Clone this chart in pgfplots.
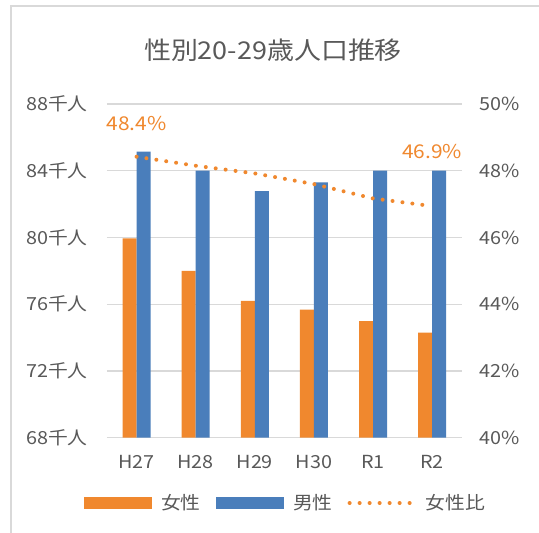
\documentclass[border=0pt]{standalone}
\usepackage{fontspec}
\setmainfont{Noto Sans CJK JP}[FakeStretch=1.1]
\usepackage{pgfplots}
\pgfplotsset{compat=1.18}
\definecolor{orangeC}{HTML}{F0882E}
\definecolor{blueC}{HTML}{4A7EBB}
\definecolor{txtgray}{HTML}{595959}
\definecolor{gridgray}{HTML}{D9D9D9}
\pgfplotsset{
  orangebox legend/.style={legend image code/.code={\fill[orangeC] (0pt,-5.5pt) rectangle (67pt,5.5pt);}},
  bluebox legend/.style={legend image code/.code={\fill[blueC] (0pt,-5.5pt) rectangle (67pt,5.5pt);}},
  dotline legend/.style={legend image code/.code={\draw[orangeC, line width=4pt, line cap=round, dash pattern=on 0pt off 10pt] (2pt,0pt) -- (66pt,0pt);}},
}
\begin{document}
\begin{tikzpicture}
\useasboundingbox (0pt,0pt) rectangle (539pt,533pt);
\fill[white] (0pt,0pt) rectangle (539pt,533pt);
\draw[gridgray, line width=1.5pt] (11pt,0pt) -- (11pt,527pt) -- (539pt,527pt);
\node[text=txtgray, font=\fontsize{24.5}{28}\selectfont] at (273pt,483pt) {性別20-29歳人口推移};
\begin{axis}[
  at={(107pt,95.3pt)}, anchor=south west, scale only axis,
  width=354.7pt, height=333.7pt,
  xmin=-0.5, xmax=5.5, ymin=68, ymax=88,
  xtick={0,1,2,3,4,5}, xticklabels={H27,H28,H29,H30,R1,R2},
  ytick={68,72,76,80,84,88},
  yticklabels={68千人,72千人,76千人,80千人,84千人,88千人},
  axis line style={draw=none},
  tick style={draw=none}, major tick length=0pt,
  ymajorgrids, grid style={gridgray, line width=1.2pt},
  ticklabel style={text=txtgray, font=\fontsize{18}{21}\selectfont},
  yticklabel style={anchor=east, inner sep=0pt, xshift=-19pt},
  xticklabel style={anchor=north, inner sep=0pt, yshift=-17pt},
  /pgf/number format/assume math mode=true,
  clip=false,
]
\addplot[ybar, bar width=14pt, bar shift=-7pt, fill=orangeC, draw=none]
  coordinates {(0,79.94) (1,78.0) (2,76.2) (3,75.68) (4,74.98) (5,74.3)};
\addplot[ybar, bar width=14pt, bar shift=7pt, fill=blueC, draw=none]
  coordinates {(0,85.14) (1,84.0) (2,82.78) (3,83.3) (4,84.0) (5,84.0)};
\end{axis}
\begin{axis}[
  at={(107pt,95.3pt)}, anchor=south west, scale only axis,
  width=354.7pt, height=333.7pt,
  xmin=-0.5, xmax=5.5, ymin=40, ymax=50,
  hide x axis,
  axis line style={draw=none},
  yticklabel pos=right,
  ytick={40,42,44,46,48,50},
  yticklabels={40\%,42\%,44\%,46\%,48\%,50\%},
  tick style={draw=none}, major tick length=0pt,
  ticklabel style={text=txtgray, font=\fontsize{18}{21}\selectfont},
  yticklabel style={anchor=west, inner sep=0pt, xshift=18pt},
  /pgf/number format/assume math mode=true,
  clip=false,
  legend columns=3,
  legend style={at={(0.5,-0.1957)}, anchor=center, draw=none, fill=none,
    font=\fontsize{18}{21}\selectfont, text=txtgray,
    /tikz/every odd column/.append style={column sep=10pt},
    /tikz/every even column/.append style={column sep=15pt},
    nodes={inner sep=0pt}},
]
\addlegendimage{orangebox legend}
\addlegendentry{女性}
\addlegendimage{bluebox legend}
\addlegendentry{男性}
\addplot[orangeC, line width=4pt, line cap=round, dash pattern=on 0pt off 10pt, dotline legend]
  coordinates {(0,48.42) (1,48.15) (2,47.92) (3,47.6) (4,47.17) (5,46.94)};
\addlegendentry{女性比}
\node[text=orangeC, font=\fontsize{19}{22}\selectfont] at (axis cs:0,48.42) [yshift=33pt] {48.4\%};
\node[text=orangeC, font=\fontsize{19}{22}\selectfont] at (axis cs:5,46.94) [yshift=55pt] {46.9\%};
\end{axis}
\end{tikzpicture}
\end{document}
